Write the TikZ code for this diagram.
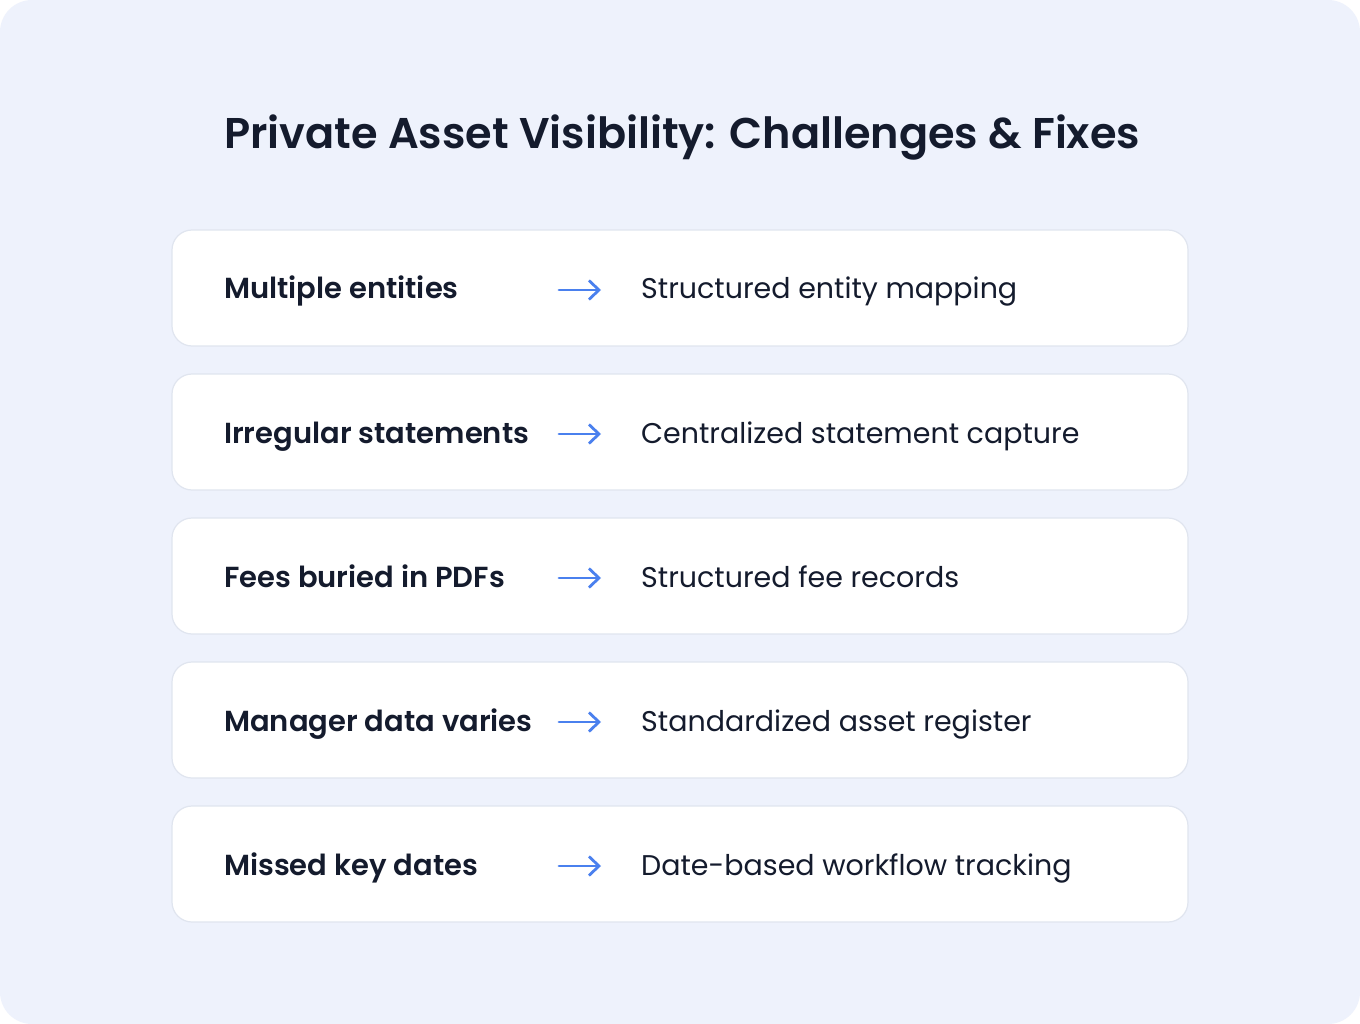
\documentclass[tikz,border=0pt]{standalone}
\usepackage{fontspec}
\setmainfont{Poppins}
\newfontfamily\boldf{Poppins}[UprightFont=* SemiBold]
\newfontfamily\regf{Poppins}
\usetikzlibrary{arrows.meta}
\definecolor{bgc}{HTML}{EEF2FC}
\definecolor{cardline}{HTML}{E0E5EF}
\definecolor{ink}{HTML}{141B2D}
\definecolor{arrowc}{HTML}{4A80EE}
\tikzset{
  card/.style={draw=cardline, line width=1.2pt, fill=white, rounded corners=20pt},
  lefttext/.style={anchor=base west, inner sep=0pt, text=ink, font=\boldf\fontsize{29}{34}\selectfont},
  righttext/.style={anchor=base west, inner sep=0pt, text=ink, font=\regf\fontsize{28.5}{34}\selectfont},
  arr/.style={draw=arrowc, line width=2.8pt, -{Straight Barb[length=10pt,width=19pt,line width=2.8pt]}, line cap=round}
}
\begin{document}
\begin{tikzpicture}[x=1pt,y=-1pt]
\useasboundingbox (0,0) rectangle (1360,1024);
\fill[white] (0,0) rectangle (1360,1024);
\fill[bgc, rounded corners=32pt] (0,0) rectangle (1360,1024);
\node[anchor=base west, inner sep=0pt, text=ink, font=\boldf\fontsize{43}{50}\selectfont] (title) at (224,149) {Private Asset Visibility: Challenges \& Fixes};
\foreach \i/\l/\r in {0/Multiple entities/Structured entity mapping,
                     1/Irregular statements/Centralized statement capture,
                     2/Fees buried in PDFs/Structured fee records,
                     3/Manager data varies/Standardized asset register,
                     4/Missed key dates/Date-based workflow tracking}{
  \pgfmathsetmacro\top{230+144*\i}
  \pgfmathsetmacro\base{\top+69}
  \pgfmathsetmacro\mid{\top+60}
  \draw[card] (172,\top) rectangle (1188,\top+116);
  \node[lefttext] (l\i) at (224,\base) {\l};
  \coordinate (as\i) at (559,\mid);
  \coordinate (ae\i) at (601,\mid);
  \draw[arr] (as\i) -- (ae\i);
  \node[righttext] (r\i) at (641,\base) {\r};
}
\end{tikzpicture}
\end{document}
